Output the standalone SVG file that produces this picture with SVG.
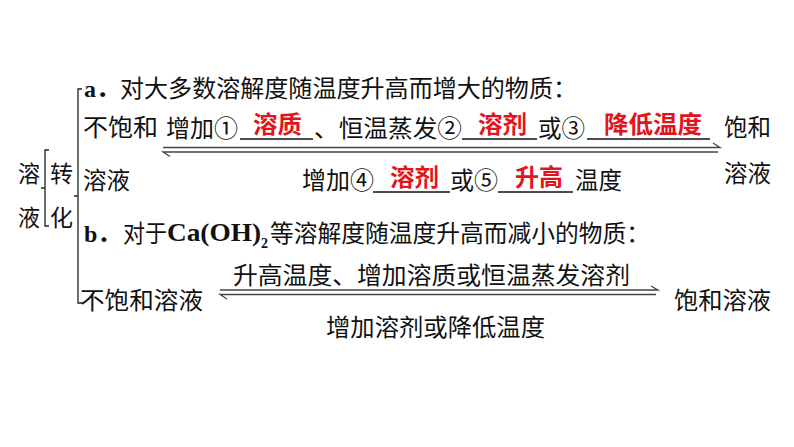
<svg xmlns="http://www.w3.org/2000/svg" width="794" height="447" viewBox="0 0 794 447">
<style>
.t{font-family:"Noto Sans CJK SC","Noto Sans",sans-serif;font-size:24px;fill:#111}
.r{font-family:"Noto Sans CJK SC","Noto Sans",sans-serif;font-size:24px;font-weight:bold;fill:#e3141b}
.s{font-family:"Liberation Serif","Noto Sans CJK SC",serif;font-weight:bold;fill:#111}
.br{fill:none;stroke:#222;stroke-width:1.3}
.ar{fill:none;stroke:#444;stroke-width:1.3}
.ul{stroke:#111;stroke-width:1.5}
</style>
<rect width="794" height="447" fill="#fff"/>
<g id="side">
<text class="t" x="18" y="182" style="font-size:23px" textLength="22" lengthAdjust="spacingAndGlyphs">溶</text>
<text class="t" x="18" y="226" style="font-size:23px" textLength="22" lengthAdjust="spacingAndGlyphs">液</text>
<text class="t" x="50" y="182" style="font-size:23px" textLength="23" lengthAdjust="spacingAndGlyphs">转</text>
<text class="t" x="50" y="226" style="font-size:23px" textLength="23" lengthAdjust="spacingAndGlyphs">化</text>
<path class="br" d="M49,150 H45 V226 H49 M45,188 H41"/>
<path class="br" d="M82,89 H78 V303 H82 M78,196 H74"/>
</g>
<g id="rowA">
<text class="s" x="84" y="97" style="font-size:24px">a．</text>
<text class="t" x="120" y="97" textLength="457" lengthAdjust="spacingAndGlyphs">对大多数溶解度随温度升高而增大的物质：</text>
</g>
<g id="nodeA-left">
<text class="t" x="83" y="136" textLength="75" lengthAdjust="spacingAndGlyphs">不饱和</text>
<text class="t" x="83" y="189" textLength="47" lengthAdjust="spacingAndGlyphs">溶液</text>
</g>
<g id="nodeA-right">
<text class="t" x="724" y="136" textLength="47" lengthAdjust="spacingAndGlyphs">饱和</text>
<text class="t" x="724" y="182" textLength="47" lengthAdjust="spacingAndGlyphs">溶液</text>
</g>
<g id="labelA-top">
<text class="t" x="166" y="137" textLength="72" lengthAdjust="spacingAndGlyphs">增加①</text>
<text class="r" x="253" y="133" textLength="49" lengthAdjust="spacingAndGlyphs">溶质</text>
<text class="t" x="314" y="137" textLength="148" lengthAdjust="spacingAndGlyphs">、恒温蒸发②</text>
<text class="r" x="478" y="133" textLength="49" lengthAdjust="spacingAndGlyphs">溶剂</text>
<text class="t" x="538" y="137" textLength="47" lengthAdjust="spacingAndGlyphs">或③</text>
<text class="r" x="604" y="133" textLength="98" lengthAdjust="spacingAndGlyphs">降低温度</text>
<line class="ul" x1="240" y1="139" x2="313" y2="139"/>
<line class="ul" x1="462" y1="139" x2="537" y2="139"/>
<line class="ul" x1="587" y1="139" x2="710" y2="139"/>
</g>
<g id="labelA-bottom">
<text class="t" x="302" y="189" textLength="72" lengthAdjust="spacingAndGlyphs">增加④</text>
<text class="r" x="390" y="186" textLength="49" lengthAdjust="spacingAndGlyphs">溶剂</text>
<text class="t" x="450" y="189" textLength="48" lengthAdjust="spacingAndGlyphs">或⑤</text>
<text class="r" x="515" y="186" textLength="48" lengthAdjust="spacingAndGlyphs">升高</text>
<text class="t" x="575" y="189" textLength="47" lengthAdjust="spacingAndGlyphs">温度</text>
<line class="ul" x1="373" y1="192" x2="450" y2="192"/>
<line class="ul" x1="498" y1="192" x2="573" y2="192"/>
</g>
<g id="rowB">
<text class="s" x="84" y="242" style="font-size:24px">b．</text>
<text class="t" x="123" y="242" textLength="44" lengthAdjust="spacingAndGlyphs">对于</text>
<text class="s" x="167" y="241" style="font-size:26px" textLength="94" lengthAdjust="spacingAndGlyphs">Ca(OH)</text>
<text class="s" x="261" y="248" style="font-size:14px">2</text>
<text class="t" x="270" y="242" textLength="380" lengthAdjust="spacingAndGlyphs">等溶解度随温度升高而减小的物质：</text>
</g>
<g id="nodeB-left">
<text class="t" x="80" y="309" textLength="123" lengthAdjust="spacingAndGlyphs">不饱和溶液</text>
</g>
<g id="nodeB-right">
<text class="t" x="674" y="309" textLength="97" lengthAdjust="spacingAndGlyphs">饱和溶液</text>
</g>
<g id="labelB">
<text class="t" x="233" y="284" textLength="397" lengthAdjust="spacingAndGlyphs">升高温度、增加溶质或恒温蒸发溶剂</text>
<text class="t" x="326" y="336" textLength="219" lengthAdjust="spacingAndGlyphs">增加溶剂或降低温度</text>
</g>
<g id="connectors">
<path class="ar" d="M163,147.5 H720 L713,143"/>
<path class="ar" d="M170,156.5 L163,152 H718"/>
<path class="ar" d="M220,290 H658 L651,286"/>
<path class="ar" d="M227,299 L220,294.5 H656"/>
</g>
</svg>
